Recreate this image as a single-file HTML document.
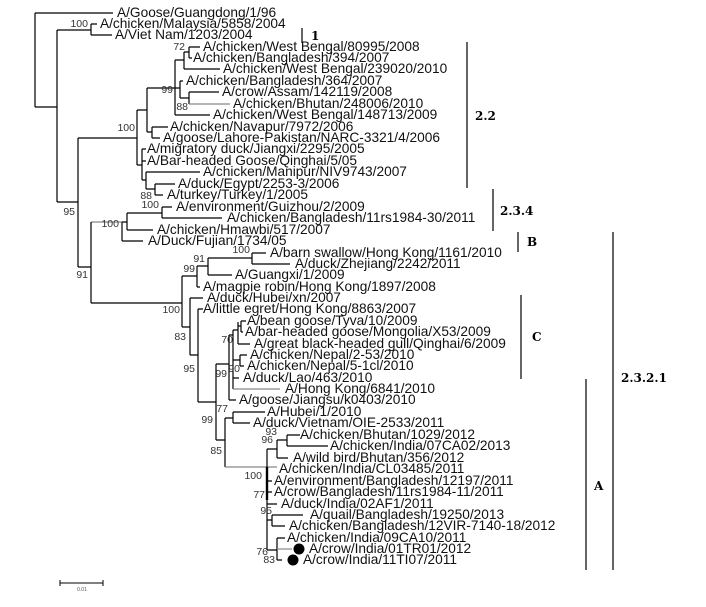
<!DOCTYPE html>
<html><head><meta charset="utf-8"><style>
body{margin:0;background:#fff}
svg{display:block}
.l{font-family:"Liberation Sans",Arial,sans-serif;font-size:13.7px;fill:#111}
.b{font-family:"Liberation Sans",Arial,sans-serif;font-size:10.5px;fill:#333}
.c{font-family:"DejaVu Serif","Liberation Serif",serif;font-size:12px;font-weight:bold;fill:#000}
line,path{stroke:#000;stroke-width:1.2;fill:none}
.g{stroke:#888}
</style></head><body>
<svg width="706" height="607" viewBox="0 0 706 607" xmlns="http://www.w3.org/2000/svg">
<g>
<path d="M35 13V107M35 13H113M35 107H57M57 30V202M57 30H91M91 24V35M91 24H97M91 35H112M57 202H78M78 138V267M78 267H91"/>
<path d="M78 138H137M137 110V165M137 110H147M147 88V132M147 88H175M175 60V115M175 60H184M184 52V69M184 52H189M189 47V58M189 47H200M189 58H192M184 69H220M175 88H180M180 81V98M180 81H183M180 98H189M189 92V104M189 92H219M175 115H210M147 132H152M152 127V138M152 127H168M152 138H160M137 165H142M142 149V180M142 149H146M142 161H146M142 180H146M146 172V189M146 172H200M146 189H155M155 184V195M155 184H175M155 195H163"/>
<line class="g" x1="189" y1="104" x2="230" y2="104"/>
<line class="g" x1="91" y1="222" x2="122" y2="222"/>
<path d="M91 222V303M122 222V241M122 241H143M122 222H127M127 213V230M127 230H153M127 213H162M162 207V218M162 207H172M162 218H222"/>
<path d="M91 303H182M182 276V327M182 276H197M197 266V287M197 287H200M197 266H208M208 258V275M208 275H232M208 258H252M252 253V264M252 253H266M252 264H290M182 327H190M190 298V355M190 298H203M190 355H198M198 309V402M198 309H203M198 402H216M216 364V440M216 364H229M229 335V400M229 400H236M229 335H233M233 330V389M233 378H239M233 330H238M238 322V344M238 344H250M238 326H241M241 321V332M241 321H246M241 332H243M233 360H240M240 355V366M240 355H247M240 366H244"/>
<line class="g" x1="233" y1="389" x2="280" y2="389"/>
<path d="M216 440H225M225 418V467M225 418H233M233 412V423M233 412H265M233 423H250"/>
<line class="g" x1="225" y1="467" x2="277" y2="467"/>
<path d="M267 449V550M267 449H277M277 440V458M277 440H287M287 435V446M287 435H300M287 446H328M277 458H288M267 481H272M267 492H272M267 504H277M267 520H272M272 515V526M272 515H303M272 526H285M267 550H277M277 538V560M277 538H285M277 560H282"/>
<line x1="267" y1="467" x2="267" y2="500" style="stroke-width:2.4"/>
<line class="g" x1="277" y1="549" x2="292" y2="549"/>
<circle cx="299" cy="549" r="5.5" fill="#000"/>
<circle cx="293" cy="560" r="5.5" fill="#000"/>
</g>
<g class="l">
<text x="117" y="17">A/Goose/Guangdong/1/96</text>
<text x="100" y="28">A/chicken/Malaysia/5858/2004</text>
<text x="115" y="39">A/Viet Nam/1203/2004</text>
<text x="203" y="51">A/chicken/West Bengal/80995/2008</text>
<text x="193" y="62">A/chicken/Bangladesh/394/2007</text>
<text x="223" y="73">A/chicken/West Bengal/239020/2010</text>
<text x="186" y="85">A/chicken/Bangladesh/364/2007</text>
<text x="222" y="96">A/crow/Assam/142119/2008</text>
<text x="233" y="108">A/chicken/Bhutan/248006/2010</text>
<text x="213" y="119">A/chicken/West Bengal/148713/2009</text>
<text x="170" y="131">A/chicken/Navapur/7972/2006</text>
<text x="163" y="142">A/goose/Lahore-Pakistan/NARC-3321/4/2006</text>
<text x="147" y="153">A/migratory duck/Jiangxi/2295/2005</text>
<text x="147" y="165">A/Bar-headed Goose/Qinghai/5/05</text>
<text x="203" y="176">A/chicken/Manipur/NIV9743/2007</text>
<text x="178" y="188">A/duck/Egypt/2253-3/2006</text>
<text x="167" y="199">A/turkey/Turkey/1/2005</text>
<text x="176" y="211">A/environment/Guizhou/2/2009</text>
<text x="227" y="222">A/chicken/Bangladesh/11rs1984-30/2011</text>
<text x="157" y="234">A/chicken/Hmawbi/517/2007</text>
<text x="148" y="245">A/Duck/Fujian/1734/05</text>
<text x="270" y="257">A/barn swallow/Hong Kong/1161/2010</text>
<text x="295" y="268">A/duck/Zhejiang/2242/2011</text>
<text x="235" y="279">A/Guangxi/1/2009</text>
<text x="203" y="291">A/magpie robin/Hong Kong/1897/2008</text>
<text x="207" y="302">A/duck/Hubei/xn/2007</text>
<text x="203" y="313">A/little egret/Hong Kong/8863/2007</text>
<text x="247" y="325">A/bean goose/Tyva/10/2009</text>
<text x="245" y="336">A/bar-headed goose/Mongolia/X53/2009</text>
<text x="254" y="348">A/great black-headed gull/Qinghai/6/2009</text>
<text x="250" y="359">A/chicken/Nepal/2-53/2010</text>
<text x="247" y="370">A/chicken/Nepal/5-1cl/2010</text>
<text x="243" y="382">A/duck/Lao/463/2010</text>
<text x="285" y="393">A/Hong Kong/6841/2010</text>
<text x="239" y="404">A/goose/Jiangsu/k0403/2010</text>
<text x="267" y="416">A/Hubei/1/2010</text>
<text x="253" y="427">A/duck/Vietnam/OIE-2533/2011</text>
<text x="300" y="439">A/chicken/Bhutan/1029/2012</text>
<text x="330" y="450">A/chicken/India/07CA02/2013</text>
<text x="293" y="462">A/wild bird/Bhutan/356/2012</text>
<text x="279" y="473">A/chicken/India/CL03485/2011</text>
<text x="274" y="485">A/environment/Bangladesh/12197/2011</text>
<text x="274" y="496">A/crow/Bangladesh/11rs1984-11/2011</text>
<text x="281" y="508">A/duck/India/02AF1/2011</text>
<text x="310" y="519">A/quail/Bangladesh/19250/2013</text>
<text x="289" y="530">A/chicken/Bangladesh/12VIR-7140-18/2012</text>
<text x="287" y="542">A/chicken/India/09CA10/2011</text>
<text x="309" y="553">A/crow/India/01TR01/2012</text>
<text x="303" y="564">A/crow/India/11TI07/2011</text>
</g>
<g class="b" text-anchor="end">
<text x="88" y="27">100</text>
<text x="185" y="50">72</text>
<text x="173" y="93">99</text>
<text x="188" y="110">88</text>
<text x="135" y="131">100</text>
<text x="152" y="199">88</text>
<text x="159" y="208">100</text>
<text x="75" y="215">95</text>
<text x="119" y="227">100</text>
<text x="88" y="278">91</text>
<text x="250" y="253">100</text>
<text x="205" y="262">91</text>
<text x="195" y="272">99</text>
<text x="180" y="313">100</text>
<text x="186" y="340">83</text>
<text x="195" y="372">95</text>
<text x="233" y="343">70</text>
<text x="227" y="377">99</text>
<text x="240" y="372">90</text>
<text x="228" y="412">77</text>
<text x="213" y="423">99</text>
<text x="222" y="454">85</text>
<text x="277" y="435">93</text>
<text x="273" y="443">96</text>
<text x="262" y="479">100</text>
<text x="265" y="498">77</text>
<text x="272" y="514">95</text>
<text x="268" y="555">76</text>
<text x="275" y="563">83</text>
</g>
<path d="M302 28V43M467 42V188M493 189V231M518 232V252M521 295V379M586 379V570M613 232V570"/>
<g class="c">
<text x="311" y="40">1</text>
<text x="475" y="120">2.2</text>
<text x="500" y="215">2.3.4</text>
<text x="527" y="246">B</text>
<text x="532" y="341">C</text>
<text x="594" y="490">A</text>
<text x="621" y="382">2.3.2.1</text>
</g>
<path d="M60 583H103M60 580V586M103 580V586" style="stroke-width:1"/>
<text x="82" y="591" text-anchor="middle" style="font-family:'Liberation Sans',sans-serif;font-size:5px;fill:#555">0.01</text>
</svg>
</body></html>
